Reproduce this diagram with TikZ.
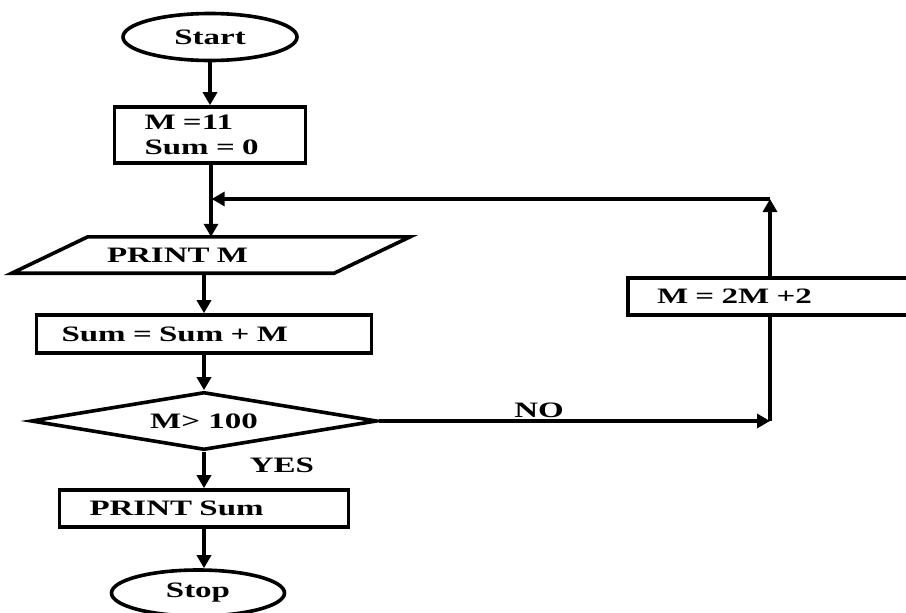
\documentclass[tikz,border=0pt]{standalone}
\usepackage{fontspec}
\setmainfont{Liberation Serif}[FakeStretch=1.5]
\usetikzlibrary{shapes.geometric,arrows.meta,calc}
\begin{document}
\begin{tikzpicture}[x=1pt,y=-1pt,
  every node/.style={font=\fontsize{22}{25}\selectfont\bfseries},
  ln/.style={line width=3.4pt},
  arr/.style={line width=3.4pt,-{Triangle[length=13pt,width=14pt]}},
  term/.style={draw,line width=3.6pt,ellipse,inner sep=0pt},
  procbox/.style={draw,line width=3.6pt,rectangle,align=left,inner ysep=0pt},
  txt/.style={inner sep=0pt,anchor=base}
]
\useasboundingbox (0,0) rectangle (906,613);
\clip (0,0) rectangle (906,613);
\fill[white] (0,0) rectangle (906,613);

\node[term,minimum width=174pt,minimum height=47pt] (start) at (210,37) {Start};
\node[procbox,text width=131pt,inner xsep=30pt,minimum height=56pt] (init) at (210,135) {M =11\\Sum = 0};
\node[rectangle,align=left,inner ysep=0pt,text width=208pt,inner xsep=57pt,minimum height=36pt] (pm) at (211,255) {PRINT M};
\draw[line width=3.6pt,line join=miter] ($(pm.south west)+(-38,0)$) -- ($(pm.south east)+(-38,0)$)
   -- ($(pm.north east)+(38,0)$) -- ($(pm.north west)+(38,0)$) -- cycle;
\node[procbox,text width=285pt,inner xsep=25pt,minimum height=38pt] (sum) at (204,334) {Sum = Sum + M};
\node[draw,line width=3.6pt,diamond,aspect=6,inner sep=0pt,minimum width=346pt,minimum height=58pt] (dia) at (204,421) {M> 100};
\node[procbox,text width=229pt,inner xsep=30pt,minimum height=37pt] (psum) at (204,508.5) {PRINT Sum};
\node[term,minimum width=173pt,minimum height=46pt] (stop) at (198,593) {Stop};
\node[procbox,text width=274pt,inner xsep=29pt,minimum height=37pt] (upd) at (794,296.5) {M = 2M +2};
\node[txt] (no) at (539,417) {NO};
\node[txt] (yes) at (282,472) {YES};

\coordinate (nocorner) at (770,421);
\coordinate (topcorner) at (770,199);
\coordinate (junction) at (210,199);

\draw[arr] (start) -- (init);
\draw[arr] (init.south -| pm.north) -- (pm.north);
\draw[arr] (pm.south -| sum.north) -- (sum.north);
\draw[arr] (sum) -- (dia.north);
\draw[arr] (dia.south) -- (psum.north);
\draw[arr] (psum.south) -- (psum.south |- stop.north);
\draw[arr] (dia.east) -- (nocorner);
\draw[ln] (nocorner) -- (nocorner |- upd.south);
\draw[arr] (nocorner |- upd.north) -- (topcorner);
\draw[arr,shorten >=1.7pt] (topcorner) -- (junction);
\end{tikzpicture}
\end{document}
